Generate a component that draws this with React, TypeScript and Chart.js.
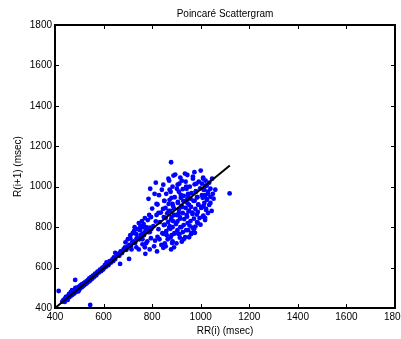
import React, { useEffect, useRef } from "react";
import { Chart, registerables } from "chart.js";

Chart.register(...registerables);

const chartTitle = "Poincaré Scattergram";
const xAxisLabel = "RR(i) (msec)";
const yAxisLabel = "R(i+1) (msec)";
const axisMin = 400;
const axisMax = 1800;
const tickStep = 200;

// Fit line end points
const fitLineRR = [404, 1120];
const fitLineNext = [404, 1105];

// Low-RR points along the diagonal
const diagonalRR = [430,435,438,442,445,448,450,452,455,457,460,462,465,467,470,472,474,476,478,480,482,484,486,488,490,492,494,496,498,500,502,504,506,508,510,512,515,518,520,523,526,529,532,535,538,541,545,548,552,556,560,465,470,458,476,490,500,512,452,445,440,484,496,415,545,483];
const diagonalNext = [432,440,436,447,441,452,446,458,450,462,455,468,460,472,464,478,468,482,472,486,476,490,480,495,484,498,488,503,492,506,497,510,500,514,504,518,508,522,512,527,518,532,524,538,530,546,536,552,544,560,552,478,488,470,470,500,490,505,440,455,430,500,482,484,415,539];

const midRR = [565,570,575,580,585,590,595,600,605,610,615,620,625,630,636,642,648,655,660,665,670,676,682,688,694,598,612,640];
const midNext = [570,562,580,575,590,582,600,596,612,604,620,612,632,624,640,650,642,662,668,658,680,672,690,700,688,590,625,632];

const transitionRR = [700,706,712,718,724,730,736,742,748,754,760,766,772,778,784,790,796,690,700,710,720,728,735,740,745,752,758,765,770,775,782,788,795,710,725,750,760,648,715,735,745,760,770,780,790,795,760,775,668,705,772];
const transitionNext = [705,712,706,726,730,722,744,748,740,762,768,760,780,786,776,798,790,725,740,760,770,800,765,790,820,805,830,815,845,800,835,860,850,745,780,785,800,673,690,700,690,715,700,730,690,745,740,720,618,643,668];

const clusterRR = [
  792,810,785,818,800,826,795,815,805,790,822,812,820,808,
  815,840,828,850,822,845,836,818,856,832,848,826,842,860,830,852,838,846,
  846,872,858,880,850,868,886,855,875,862,890,848,878,866,852,884,870,858,892,846,876,864,882,856,
  878,867,895,888,870,912,884,902,876,918,893,872,906,884,924,890,868,910,900,880,915,886,898,872,920,875,904,892,880,914,884,900,890,878,
  916,935,922,905,940,926,910,948,930,918,944,928,906,952,920,938,910,950,926,942,914,932,904,946,930,916,940,926,912,908,936,930,922,
  945,968,938,975,955,942,980,962,948,985,958,970,946,990,960,978,952,966,984,944,972,958,988,954,966,948,976,960,952,
  974,1000,968,1010,992,982,1020,998,1015,980,1030,1005,986,1025,975,1040,990,1012,1002,1022,988,966,1008,995,1018,985,999,978,964,972,
  1010,1020,1047,1035,1005,1025,1040,1012,1030,1050,1018,1040,1053,1008,1026,1015,1035,1005,1022,1011,1030,1045,1018,1060,1119
];
const clusterNext = [
  990,965,940,915,892,870,850,828,805,775,752,733,680,705,
  1020,985,958,930,912,890,872,860,845,825,810,790,770,760,740,720,712,698,
  1010,985,965,945,930,915,905,895,880,868,860,850,838,825,812,800,795,780,768,767,750,740,722,705,
  1121,1040,1060,1055,1030,1015,1000,990,975,960,948,935,925,915,900,892,880,870,860,850,842,830,815,805,800,792,785,770,760,748,730,720,700,690,
  1045,1065,1030,1010,1000,988,975,965,955,945,938,930,920,910,905,895,888,878,870,860,850,840,828,820,810,800,785,775,765,767,750,740,728,
  1058,1040,1025,1012,1000,990,978,968,958,948,940,930,918,910,900,890,882,872,862,852,842,830,820,808,798,785,772,765,750,
  1072,1080,1050,1040,1025,1015,1005,992,985,975,965,958,948,940,930,920,912,905,895,885,875,865,852,845,835,825,812,803,772,790,
  1045,1030,1040,1020,1015,1005,990,985,975,965,958,950,941,945,935,920,910,900,890,857,870,880,845,985,967
];

const FONT = '"Liberation Sans", Arial, Helvetica, sans-serif';

function pairs(xs: number[], ys: number[]) {
  const n = Math.min(xs.length, ys.length);
  const out: { x: number; y: number }[] = [];
  for (let i = 0; i < n; i++) out.push({ x: xs[i], y: ys[i] });
  return out;
}

const framePlugin = {
  id: "matlabFrame",
  afterDatasetsDraw(chart: any) {
    const { ctx, chartArea, scales } = chart;
    const { left, right, top, bottom } = chartArea;
    const xs = scales.x;
    const ys = scales.y;
    ctx.save();
    ctx.strokeStyle = "#000";
    ctx.lineWidth = 1;
    ctx.beginPath();
    xs.ticks.forEach((t: any) => {
      const px = Math.round(xs.getPixelForValue(t.value)) + 0.5;
      ctx.moveTo(px, bottom);
      ctx.lineTo(px, bottom - 4);
      ctx.moveTo(px, top);
      ctx.lineTo(px, top + 4);
    });
    ys.ticks.forEach((t: any) => {
      const py = Math.round(ys.getPixelForValue(t.value)) + 0.5;
      ctx.moveTo(left, py);
      ctx.lineTo(left + 4, py);
      ctx.moveTo(right, py);
      ctx.lineTo(right - 4, py);
    });
    ctx.stroke();
    ctx.lineWidth = 2;
    ctx.strokeRect(left, top, right - left, bottom - top);
    ctx.fillStyle = "#000";
    ctx.font = `10px ${FONT}`;
    ctx.textAlign = "center";
    ctx.textBaseline = "middle";
    ctx.fillText(chartTitle, (left + right) / 2, 14);
    ctx.restore();
  },
};

export default function App() {
  const canvasRef = useRef<HTMLCanvasElement | null>(null);

  useEffect(() => {
    if (!canvasRef.current) return;
    const points = [
      ...pairs(diagonalRR, diagonalNext),
      ...pairs(midRR, midNext),
      ...pairs(transitionRR, transitionNext),
      ...pairs(clusterRR, clusterNext),
    ];
    const tickFormat = (v: any) => String(v);
    const chart = new Chart(canvasRef.current, {
      type: "scatter",
      data: {
        datasets: [
          {
            label: "fit",
            data: pairs(fitLineRR, fitLineNext),
            showLine: true,
            borderColor: "#000",
            borderWidth: 2,
            pointRadius: 0,
            order: 0,
          } as any,
          {
            label: "RR",
            data: points,
            backgroundColor: "#0000ff",
            borderWidth: 0,
            pointRadius: 2.4,
            order: 1,
          },
        ],
      },
      plugins: [framePlugin],
      options: {
        responsive: false,
        animation: false,
        devicePixelRatio: 1,
        layout: { padding: { top: 25, right: 6, left: 0, bottom: 0 } },
        plugins: {
          legend: { display: false },
          tooltip: { enabled: false },
          title: { display: false },
        },
        scales: {
          x: {
            type: "linear",
            min: axisMin,
            max: axisMax,
            grid: { display: false, drawTicks: false },
            border: { display: false },
            ticks: {
              stepSize: tickStep,
              padding: 3,
              color: "#000",
              font: { family: FONT, size: 10 },
              maxRotation: 0,
              autoSkip: false,
              callback: tickFormat,
            },
            title: {
              display: true,
              text: xAxisLabel,
              color: "#000",
              font: { family: FONT, size: 10 },
              padding: { top: 0, bottom: 2 },
            },
            afterFit(scale: any) {
              scale.height = 31;
              scale.paddingLeft = 0;
              scale.paddingRight = 0;
            },
          },
          y: {
            type: "linear",
            min: axisMin,
            max: axisMax,
            grid: { display: false, drawTicks: false },
            border: { display: false },
            ticks: {
              stepSize: tickStep,
              padding: 3,
              color: "#000",
              font: { family: FONT, size: 10 },
              autoSkip: false,
              callback: tickFormat,
            },
            title: {
              display: true,
              text: yAxisLabel,
              color: "#000",
              font: { family: FONT, size: 10 },
              padding: { top: 12, bottom: 0 },
            },
            afterFit(scale: any) {
              scale.width = 55;
              scale.paddingTop = 0;
              scale.paddingBottom = 0;
            },
          },
        },
      },
    });
    return () => chart.destroy();
  }, []);

  return (
    <div style={{ position: "fixed", left: 0, top: 0, width: 401, height: 339, background: "#fff" }}>
      <canvas ref={canvasRef} width={401} height={339} style={{ display: "block" }} />
    </div>
  );
}
